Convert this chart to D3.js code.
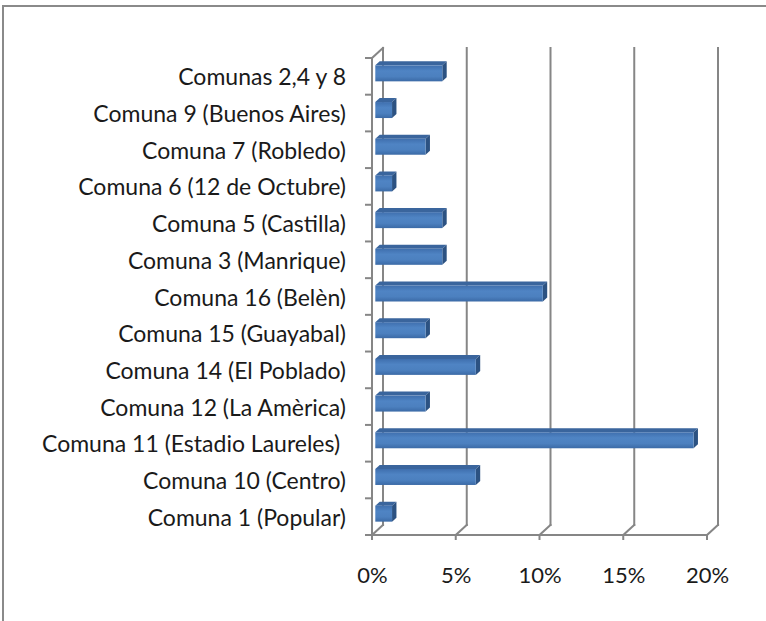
<!DOCTYPE html>
<html>
<head>
<meta charset="utf-8">
<script src="https://cdn.jsdelivr.net/npm/d3@7"></script>
<style>
  html, body { margin: 0; padding: 0; background: #fff; }
  svg { display: block; }
</style>
</head>
<body>
<div id="chart"></div>
<script>
// ===== Chart data =====
const categories = [
  'Comuna 1 (Popular)',
  'Comuna 10 (Centro)',
  'Comuna 11 (Estadio Laureles)\u00a0',
  'Comuna 12 (La Amèrica)',
  'Comuna 14 (El Poblado)',
  'Comuna 15 (Guayabal)',
  'Comuna 16 (Belèn)',
  'Comuna 3 (Manrique)',
  'Comuna 5 (Castilla)',
  'Comuna 6 (12 de Octubre)',
  'Comuna 7 (Robledo)',
  'Comuna 9 (Buenos Aires)',
  'Comunas 2,4 y 8'
];
const values = [0.01, 0.06, 0.19, 0.03, 0.06, 0.03, 0.10, 0.04, 0.04, 0.01, 0.03, 0.01, 0.04];
const tickValues = [0, 0.05, 0.10, 0.15, 0.20];

// ===== Layout =====
const width = 766, height = 621;
const plot = { left: 372, right: 707, top: 58, bottom: 535 };
const depth = { dx: 11, dy: -10 };      // floor depth offset
const barZ = { front: 0.3, back: 0.7 };  // bar position within depth
const barHeight = 16;
const gridColor = '#868686';
const font = 'Lato, "Open Sans", sans-serif';
const fontSize = 23;

const svg = d3.select('#chart')
  .append('svg')
  .attr('width', width)
  .attr('height', height);

const defs = svg.append('defs');
const grad = defs.append('linearGradient')
  .attr('id', 'barFront')
  .attr('x1', 0).attr('y1', 0).attr('x2', 0).attr('y2', 1);
grad.append('stop').attr('offset', '0%').attr('stop-color', '#3f6fae');
grad.append('stop').attr('offset', '35%').attr('stop-color', '#4f84c4');
grad.append('stop').attr('offset', '70%').attr('stop-color', '#4c80bf');
grad.append('stop').attr('offset', '100%').attr('stop-color', '#3b6aa6');

// outer frame
svg.append('rect')
  .attr('x', 3).attr('y', 6)
  .attr('width', 900).attr('height', 800)
  .attr('fill', '#fff')
  .attr('stroke', '#8a8a8a')
  .attr('stroke-width', 2);

const x = d3.scaleLinear()
  .domain([0, 0.2])
  .range([plot.left, plot.right]);

const y = d3.scaleBand()
  .domain(categories.slice().reverse())
  .range([plot.top, plot.bottom])
  .paddingInner(0)
  .paddingOuter(0);

const line = (x1, y1, x2, y2) => svg.append('line')
  .attr('x1', x1).attr('y1', y1).attr('x2', x2).attr('y2', y2)
  .attr('stroke', gridColor)
  .attr('stroke-width', 2)
  .attr('stroke-linecap', 'square');

// back wall gridlines + floor diagonals
tickValues.forEach(v => {
  const fx = x(v);
  line(fx + depth.dx, plot.top + depth.dy, fx + depth.dx, plot.bottom + depth.dy);
  line(fx, plot.bottom, fx + depth.dx, plot.bottom + depth.dy);
  line(fx, plot.bottom, fx, plot.bottom + 4);
});

// floor front edge
line(plot.left, plot.bottom, plot.right, plot.bottom);

// left wall front edge and top diagonal
line(plot.left, plot.top, plot.left, plot.bottom);
line(plot.left, plot.top, plot.left + depth.dx, plot.top + depth.dy);

// category tick marks at band boundaries
d3.range(categories.length + 1).forEach(i => {
  const ty = plot.top + i * y.step();
  line(plot.left - 6, ty, plot.left, ty);
});

// category labels
svg.append('g')
  .selectAll('text')
  .data(categories)
  .join('text')
  .attr('x', 346)
  .attr('y', d => y(d) + y.bandwidth() / 2 + 9)
  .attr('text-anchor', 'end')
  .attr('font-family', font)
  .attr('font-size', fontSize)
  .attr('fill', '#1a1a1a')
  .text(d => d);

// x axis labels
const xAxis = svg.append('g')
  .attr('transform', `translate(0,${plot.bottom})`)
  .call(d3.axisBottom(x)
    .tickValues(tickValues)
    .tickSize(0)
    .tickPadding(32)
    .tickFormat(d3.format('.0%')));
xAxis.select('.domain').remove();
xAxis.selectAll('text')
  .attr('font-family', font)
  .attr('font-size', 22)
  .attr('fill', '#1a1a1a');

// 3D bars
const zdx1 = depth.dx * barZ.front, zdy1 = depth.dy * barZ.front;
const zdx2 = depth.dx * barZ.back, zdy2 = depth.dy * barZ.back;
const bars = svg.append('g')
  .selectAll('g')
  .data(categories.map((c, i) => ({ c, v: values[i] })))
  .join('g');

const geom = d => {
  const x0 = x(0) + zdx1, x1 = x(d.v) + zdx1;
  const yc = y(d.c) + y.bandwidth() / 2 + zdy1;
  const y0 = yc - barHeight / 2, y1 = yc + barHeight / 2;
  const ddx = zdx2 - zdx1, ddy = zdy2 - zdy1;
  return { x0, x1, y0, y1, ddx, ddy };
};

bars.append('polygon')
  .attr('points', d => {
    const g = geom(d);
    return [[g.x0, g.y0], [g.x0 + g.ddx, g.y0 + g.ddy], [g.x1 + g.ddx, g.y0 + g.ddy], [g.x1, g.y0]].join(' ');
  })
  .attr('fill', '#3a659d');

bars.append('polygon')
  .attr('points', d => {
    const g = geom(d);
    return [[g.x1, g.y0], [g.x1 + g.ddx, g.y0 + g.ddy], [g.x1 + g.ddx, g.y1 + g.ddy], [g.x1, g.y1]].join(' ');
  })
  .attr('fill', '#2c5282');

bars.append('rect')
  .attr('x', d => geom(d).x0)
  .attr('y', d => geom(d).y0)
  .attr('width', d => geom(d).x1 - geom(d).x0)
  .attr('height', barHeight)
  .attr('fill', 'url(#barFront)');
</script>
</body>
</html>
